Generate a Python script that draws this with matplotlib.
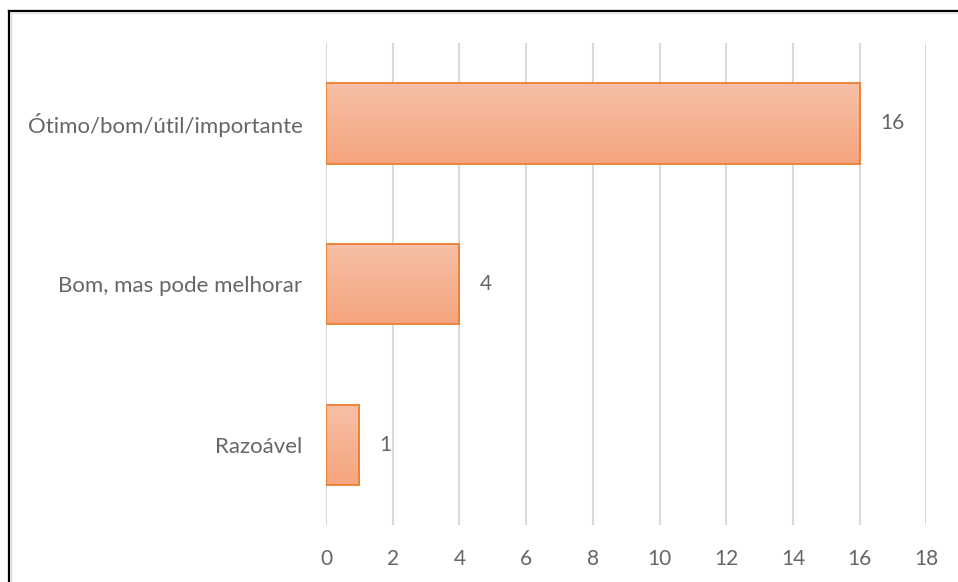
import numpy as np
import matplotlib.pyplot as plt
from matplotlib.colors import LinearSegmentedColormap
from matplotlib.lines import Line2D

categories = ['Razoável', 'Bom, mas pode melhorar', 'Ótimo/bom/útil/importante']
values = [1, 4, 16]
xticks = [0, 2, 4, 6, 8, 10, 12, 14, 16, 18]

plt.rcParams['font.family'] = ['Lato', 'DejaVu Sans']
txt = '#666666'

fig = plt.figure(figsize=(9.58, 5.82), dpi=100)
ax = fig.add_axes([0.3403, 0.0979, 0.6268, 0.8282])

y = np.arange(len(categories))
bars = ax.barh(y, values, height=0.5, facecolor='none', edgecolor='#ED7D31',
               linewidth=1.3, zorder=3)

# vertical gradient inside each bar, lighter at the top
grad = LinearSegmentedColormap.from_list('g', ['#F5A57F', '#F7C0A6'])
for b in bars:
    x0, y0, w, h = b.get_x(), b.get_y(), b.get_width(), b.get_height()
    im = ax.imshow(np.linspace(0, 1, 64).reshape(-1, 1), cmap=grad, aspect='auto',
                   extent=(x0, x0 + w, y0, y0 + h), origin='lower', zorder=2)
    im.set_clip_path(b)

for yi, v in zip(y, values):
    ax.text(v + 0.6, yi, str(v), va='center', ha='left', fontsize=15, color=txt)

ax.set_xlim(0, 18)
ax.set_ylim(-0.5, len(categories) - 0.5)
ax.set_xticks(xticks)
ax.set_yticks(y)
ax.set_yticklabels(categories)
ax.tick_params(axis='x', length=0, pad=17, labelsize=15, labelcolor=txt)
ax.tick_params(axis='y', length=0, pad=17, labelsize=16, labelcolor=txt)
ax.grid(axis='x', color='#D9D9D9', linewidth=1.5, zorder=0)
ax.set_axisbelow(True)
for s in ax.spines.values():
    s.set_visible(False)

# frame on the top and left edges
W, H = 958, 582
fig.add_artist(Line2D([9 / W, 9 / W], [0, 1 - 11 / H], color='black', linewidth=1.6,
                      transform=fig.transFigure))
fig.add_artist(Line2D([9 / W, 1], [1 - 11 / H, 1 - 11 / H], color='black', linewidth=1.6,
                      transform=fig.transFigure))
fig.add_artist(Line2D([11 / W, 11 / W], [0, 1 - 13 / H], color='#D9D9D9', linewidth=1,
                      transform=fig.transFigure))
fig.add_artist(Line2D([11 / W, 1], [1 - 13 / H, 1 - 13 / H], color='#E6E6E6', linewidth=1,
                      transform=fig.transFigure))

fig.savefig('out.png', dpi=100)
